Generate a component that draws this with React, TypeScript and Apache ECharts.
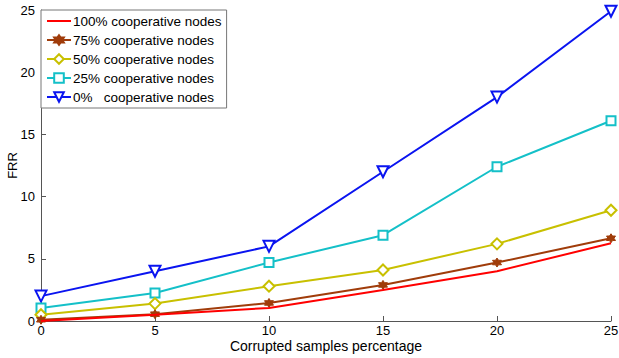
import React, { useEffect, useRef } from "react";
import * as echarts from "echarts";

const xValues = [0, 5, 10, 15, 20, 25];
const seriesNames = [
  "100% cooperative nodes",
  "75% cooperative nodes",
  "50% cooperative nodes",
  "25% cooperative nodes",
  "0%   cooperative nodes",
];
const frr100 = [0, 0.5, 1.05, 2.5, 4.0, 6.25];
const frr75 = [0.1, 0.55, 1.45, 2.9, 4.7, 6.65];
const frr50 = [0.5, 1.4, 2.8, 4.1, 6.2, 8.9];
const frr25 = [1.05, 2.25, 4.7, 6.9, 12.4, 16.1];
const frr0 = [2.0, 4.0, 6.0, 12.0, 18.0, 24.9];
const yTicks = [0, 5, 10, 15, 20, 25];

const hexagram =
  "path://M0,-10 L2.9,-5 L8.66,-5 L5.77,0 L8.66,5 L2.9,5 L0,10 L-2.9,5 L-8.66,5 L-5.77,0 L-8.66,-5 L-2.9,-5 Z";

export default function App() {
  const ref = useRef<HTMLDivElement>(null);
  useEffect(() => {
    if (!ref.current) return;
    const chart = echarts.init(ref.current, null, { renderer: "svg" });
    const pair = (ys: number[]) => xValues.map((x, i) => [x, ys[i]]);
    const font = "Liberation Sans, Arial, sans-serif";
    chart.setOption({
      animation: false,
      backgroundColor: "#ffffff",
      textStyle: { fontFamily: font },
      grid: { left: 41, right: 8, top: 10, bottom: 37, containLabel: false, outerBoundsMode: "none" },
      legend: {
        orient: "vertical",
        left: 41,
        top: 10,
        padding: [4, 5, 4, 5],
        itemWidth: 24,
        itemHeight: 12,
        itemGap: 5,
        borderColor: "#777777",
        borderWidth: 1,
        backgroundColor: "#ffffff",
        textStyle: { fontSize: 13.5, color: "#000", fontFamily: font, padding: [0, 0, 0, -3] },
        data: [
          { name: seriesNames[0], icon: "path://M0,0 L24,0 L24,2 L0,2 Z" },
          seriesNames[1],
          seriesNames[2],
          seriesNames[3],
          seriesNames[4],
        ],
      },
      xAxis: {
        type: "value",
        min: 0,
        max: 25,
        interval: 5,
        name: "Corrupted samples percentage",
        nameLocation: "middle",
        nameGap: 18,
        nameMoveOverlap: false,
        nameTextStyle: { fontSize: 14, color: "#000", fontFamily: font },
        axisLine: { lineStyle: { color: "#555", width: 1 } },
        axisTick: { inside: true, length: 5, lineStyle: { color: "#555" } },
        axisLabel: { fontSize: 13, color: "#000", margin: 3, fontFamily: font },
        splitLine: { show: false },
      },
      yAxis: {
        type: "value",
        min: 0,
        max: 25,
        interval: 5,
        name: "FRR",
        nameLocation: "middle",
        nameGap: 22,
        nameMoveOverlap: false,
        nameTextStyle: { fontSize: 13, color: "#000", fontFamily: font },
        axisLine: { show: true, lineStyle: { color: "#555", width: 1 } },
        axisTick: { show: true, inside: true, length: 5, lineStyle: { color: "#555" } },
        axisLabel: {
          fontSize: 13,
          color: "#000",
          margin: 6,
          fontFamily: font,
          formatter: (v: number) => (yTicks.includes(v) ? String(v) : ""),
        },
        splitLine: { show: false },
      },
      series: [
        {
          name: seriesNames[0],
          type: "line",
          data: pair(frr100),
          symbol: "none",
          lineStyle: { color: "#ff0000", width: 2 },
          itemStyle: { color: "#ff0000" },
          z: 5,
        },
        {
          name: seriesNames[1],
          type: "line",
          data: pair(frr75),
          symbol: hexagram,
          symbolSize: 9,
          lineStyle: { color: "#a03c0a", width: 2 },
          itemStyle: { color: "#a03c0a", borderColor: "#a03c0a", borderWidth: 1 },
          z: 4,
        },
        {
          name: seriesNames[2],
          type: "line",
          data: pair(frr50),
          symbol: "emptyDiamond",
          symbolSize: 11,
          lineStyle: { color: "#c8c000", width: 2 },
          itemStyle: { color: "#c8c000", borderWidth: 2 },
          z: 3,
        },
        {
          name: seriesNames[3],
          type: "line",
          data: pair(frr25),
          symbol: "emptyRect",
          symbolSize: 9,
          lineStyle: { color: "#14c0c8", width: 2 },
          itemStyle: { color: "#14c0c8", borderWidth: 2 },
          z: 2,
        },
        {
          name: seriesNames[4],
          type: "line",
          data: pair(frr0),
          symbol: "emptyTriangle",
          symbolRotate: 180,
          symbolSize: 11,
          lineStyle: { color: "#0a14f0", width: 2 },
          itemStyle: { color: "#0a14f0", borderWidth: 2 },
          z: 1,
        },
      ],
    });
    return () => chart.dispose();
  }, []);
  return <div ref={ref} style={{ width: 619, height: 358, position: "absolute", left: 0, top: 0 }} />;
}
